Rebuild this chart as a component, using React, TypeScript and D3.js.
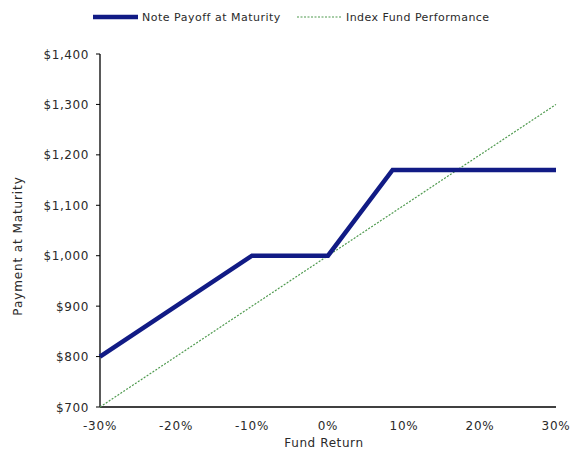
import React from 'react'
import * as d3 from 'd3'

// fund return (%) -> note payoff ($)
const noteReturns = [-30, -10, 0, 8.5, 30]
const notePayoff = [800, 1000, 1000, 1170, 1170]
// index fund tracks 1:1
const indexReturns = [-30, 30]
const indexPayoff = [700, 1300]

const xTicks = [-30, -20, -10, 0, 10, 20, 30]
const yTicks = [700, 800, 900, 1000, 1100, 1200, 1300, 1400]

const W = 570
const H = 452
const left = 100
const right = 556
const top = 54
const bottom = 407
const font = 'DejaVu Sans, Verdana, sans-serif'
const ink = '#2a2a2a'

export default function App() {
  const x = d3.scaleLinear().domain([-30, 30]).range([left, right])
  const y = d3.scaleLinear().domain([700, 1400]).range([bottom, top])

  const line = d3
    .line<[number, number]>()
    .x(d => x(d[0]))
    .y(d => y(d[1]))

  const note = noteReturns.map((r, i) => [r, notePayoff[i]] as [number, number])
  const index = indexReturns.map((r, i) => [r, indexPayoff[i]] as [number, number])

  return (
    <svg
      width={W}
      height={H}
      style={{position: 'absolute', left: 0, top: 0, background: '#fff'}}
      fontFamily={font}
    >
      {/* legend */}
      <line x1={93} x2={138} y1={17} y2={17} stroke="#111b85" strokeWidth={4.5} />
      <text x={142} y={21} fontSize={11} letterSpacing={0.5} fill={ink}>Note Payoff at Maturity</text>
      <line x1={297} x2={342} y1={17} y2={17} stroke="#4f9a4f" strokeWidth={1.2} strokeDasharray="2,1.5" />
      <text x={346} y={21} fontSize={11} letterSpacing={0.45} fill={ink}>Index Fund Performance</text>

      {/* y axis */}
      <line x1={left} x2={left} y1={top} y2={bottom} stroke="#000" strokeWidth={1.3} />
      {yTicks.map(t => (
        <g key={t}>
          <line x1={left - 4} x2={left} y1={y(t)} y2={y(t)} stroke="#000" />
          <text x={left - 11} y={y(t) + 4.5} textAnchor="end" fontSize={12} letterSpacing={0.6} fill={ink}>
            {d3.format('$,')(t)}
          </text>
        </g>
      ))}
      {/* x axis */}
      <line x1={left} x2={right} y1={bottom} y2={bottom} stroke="#000" strokeWidth={1.3} />
      {xTicks.map(t => (
        <text key={t} x={x(t)} y={bottom + 23} textAnchor="middle" fontSize={12} letterSpacing={0.8} fill={ink}>
          {t + '%'}
        </text>
      ))}

      <text x={324} y={447} textAnchor="middle" fontSize={12} letterSpacing={0.6} fill={ink}>Fund Return</text>
      <text
        transform={`translate(22, 246) rotate(-90)`}
        textAnchor="middle"
        fontSize={12}
        letterSpacing={0.9}
        fill={ink}
      >
        Payment at Maturity
      </text>

      <path d={line(index) || ''} fill="none" stroke="#4f9a4f" strokeWidth={1.2} strokeDasharray="2,1.5" />
      <path d={line(note) || ''} fill="none" stroke="#111b85" strokeWidth={4.5} strokeLinejoin="miter" />
    </svg>
  )
}
